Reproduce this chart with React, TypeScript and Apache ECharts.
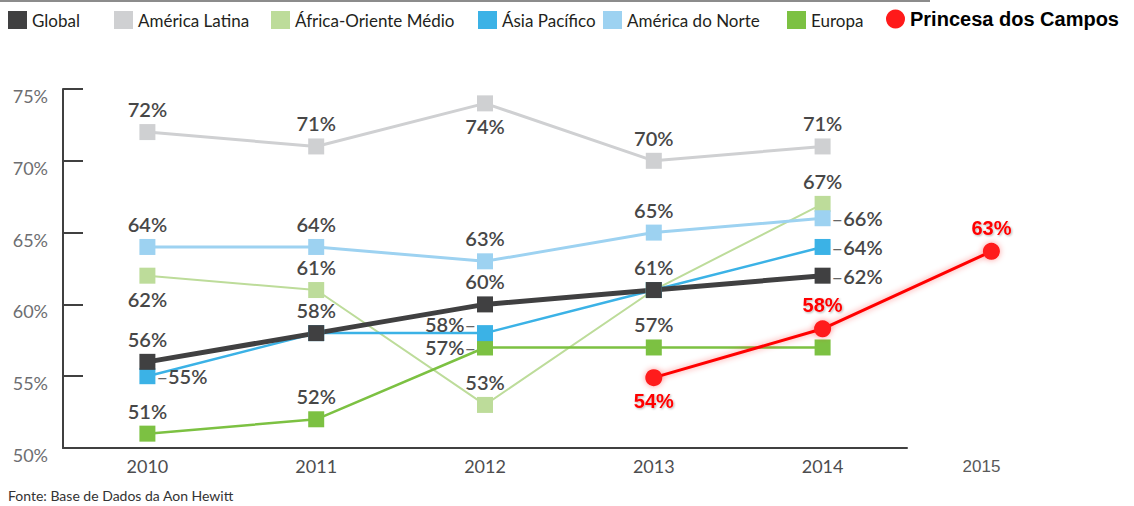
import React, { useEffect, useRef } from "react";
import * as echarts from "echarts";

const years = ["2010", "2011", "2012", "2013", "2014"];
const yearsExt = ["2010", "2011", "2012", "2013", "2014", "2015"];
const extraYear = ["2015"];

const globalVals = [56, 58, 60, 61, 62];
const latinaVals = [72, 71, 74, 70, 71];
const africaVals = [62, 61, 53, 61, 67];
const asiaVals = [55, 58, 58, 61, 64];
const norteVals = [64, 64, 63, 65, 66];
const europaVals = [51, 52, 57, 57, 57];
const princesaVals = [null, null, null, 54.9, 58.3, 63.7];
const princesaLabels = ["", "", "", "54%", "58%", "63%"];

const yTicks = { min: 50, max: 75, interval: 5 };

// label placement (style, not data)
const globalPos = ["top", "top", "top", "top", "right"];
const latinaPos = ["top", "top", "bottom", "top", "top"];
const africaPos = ["bottom", "top", "top", null, "top"];
const asiaPos = ["right", null, "left", null, "right"];
const nortePos = ["top", "top", "top", "top", "right"];
const europaPos = ["top", "top", "left", "top", null];
const asiaOffsets = [null, null, [0, -9], null, null];
const princesaPos = [null, null, null, "bottom", "top", "top"];

const FONT = "Lato, 'Open Sans', sans-serif";
const LABEL_COLOR = "#474747";

function buildData(vals: number[], pos: (string | null)[], offsets?: (number[] | null)[]) {
  return vals.map((v, i) => {
    const p = pos[i];
    if (!p) return { value: v, label: { show: false } };
    let fmt = `{v|${v}%}`;
    if (p === "right") fmt = `{d|–}{v|${v}%}`;
    if (p === "left") fmt = `{v|${v}%}{d|–}`;
    const label: any = { show: true, position: p, formatter: fmt };
    if (p === "right" || p === "left") label.distance = 1;
    if (offsets && offsets[i]) label.offset = offsets[i];
    return { value: v, label };
  });
}

const labelBase = {
  show: true,
  rich: {
    v: { fontFamily: FONT, fontSize: 20, fontWeight: 600, color: LABEL_COLOR },
    d: { fontFamily: FONT, fontSize: 20, fontWeight: 400, color: "#666" },
  },
};

function lineSeries(name: string, vals: number[], pos: (string | null)[], color: string, width: number, offsets?: (number[] | null)[]) {
  return {
    name,
    type: "line",
    xAxisIndex: 0,
    yAxisIndex: 0,
    data: buildData(vals, pos, offsets),
    symbol: "rect",
    symbolSize: 16,
    itemStyle: { color },
    lineStyle: { color, width },
    label: labelBase,
  };
}

export default function App() {
  const ref = useRef<HTMLDivElement>(null);
  useEffect(() => {
    document.body.style.margin = "0";
    const chart = echarts.init(ref.current!, undefined, { renderer: "svg" });
    const legendText = { fontFamily: FONT, fontSize: 17, color: "#231f20" };
    const mkLegend = (name: string, left: number) => ({
      data: [name],
      left,
      top: 11,
      padding: 0,
      icon: "rect",
      itemWidth: 19,
      itemHeight: 18,
      itemGap: 0,
      textStyle: legendText,
      selectedMode: false,
    });
    const option: any = {
      animation: false,
      backgroundColor: "#ffffff",
      legend: [
        mkLegend("Global", 8),
        mkLegend("América Latina", 114),
        mkLegend("África-Oriente Médio", 271),
        mkLegend("Ásia Pacífico", 478),
        mkLegend("América do Norte", 603),
        mkLegend("Europa", 787),
        {
          data: ["Princesa dos Campos"],
          left: 886,
          top: 9,
          padding: 0,
          icon: "circle",
          itemWidth: 19,
          itemHeight: 22,
          textStyle: { fontFamily: "'Liberation Sans', Arial, sans-serif", fontSize: 20, fontWeight: "bold", color: "#000" },
          selectedMode: false,
        },
      ],
      grid: [
        { left: 63, top: 89, width: 844, height: 359 },
        { left: 63, top: 89, width: 1012.8, height: 359 },
        { left: 907, top: 89, width: 149, height: 357 },
      ],
      xAxis: [
        {
          type: "category",
          gridIndex: 0,
          data: years,
          axisLine: { lineStyle: { color: "#404040", width: 2 } },
          axisTick: { inside: true, length: 8, lineStyle: { color: "#404040", width: 1.5 } },
          axisLabel: { color: "#4d4d4f", fontFamily: FONT, fontSize: 18, margin: 9 },
        },
        { type: "category", gridIndex: 1, data: yearsExt, show: false },
        {
          type: "category",
          gridIndex: 2,
          data: extraYear,
          axisLine: { lineStyle: { color: "#808080", width: 2.5, shadowBlur: 4, shadowColor: "rgba(0,0,0,0.25)" } },
          axisTick: { show: false },
          axisLabel: { color: "#595959", fontFamily: "'Liberation Sans', Arial, sans-serif", fontSize: 17, margin: 12 },
        },
      ],
      yAxis: [
        {
          type: "value",
          gridIndex: 0,
          min: yTicks.min,
          max: yTicks.max,
          interval: yTicks.interval,
          splitLine: { show: false },
          axisLine: { show: true, lineStyle: { color: "#404040", width: 2 } },
          axisTick: { show: true, inside: true, length: 20, lineStyle: { color: "#404040", width: 2 } },
          axisLabel: {
            formatter: "{value}%",
            color: "#6d6e71",
            fontFamily: FONT,
            fontSize: 18,
            margin: 15,
            verticalAlign: "top",
            lineHeight: 14,
          },
        },
        { type: "value", gridIndex: 1, min: yTicks.min, max: yTicks.max, show: false, splitLine: { show: false } },
        { type: "value", gridIndex: 2, min: yTicks.min, max: yTicks.max, show: false, splitLine: { show: false } },
      ],
      graphic: [
        { type: "line", shape: { x1: 0, y1: 1, x2: 930, y2: 1 }, style: { stroke: "#8c8c8c", lineWidth: 2 } },
        {
          type: "text",
          left: 8,
          top: 488,
          style: { text: "Fonte: Base de Dados da Aon Hewitt", fontFamily: FONT, fontSize: 14, fill: "#333" },
        },
      ],
      series: [
        lineSeries("América Latina", latinaVals, latinaPos, "#cfd0d2", 3),
        lineSeries("África-Oriente Médio", africaVals, africaPos, "#bddc9a", 2),
        lineSeries("América do Norte", norteVals, nortePos, "#9dd2f1", 3),
        lineSeries("Europa", europaVals, europaPos, "#7cc142", 2.5),
        lineSeries("Ásia Pacífico", asiaVals, asiaPos, "#3bb2e6", 2.5, asiaOffsets),
        lineSeries("Global", globalVals, globalPos, "#404041", 5),
        {
          name: "Princesa dos Campos",
          type: "line",
          xAxisIndex: 1,
          yAxisIndex: 1,
          data: princesaVals.map((v, i) =>
            v == null
              ? null
              : {
                  value: v,
                  label: {
                    show: true,
                    position: princesaPos[i],
                    formatter: princesaLabels[i],
                  },
                }
          ),
          symbol: "circle",
          symbolSize: 17,
          itemStyle: { color: "#ff1a1a", shadowBlur: 6, shadowColor: "rgba(255,0,0,0.4)" },
          lineStyle: { color: "#ff0000", width: 3, shadowBlur: 6, shadowColor: "rgba(255,0,0,0.45)" },
          label: {
            show: true,
            fontFamily: "'Liberation Sans', Arial, sans-serif",
            fontSize: 20,
            fontWeight: "bold",
            color: "#ff0000",
            textShadowColor: "rgba(0,0,0,0.3)",
            textShadowBlur: 2,
            textShadowOffsetX: 1,
            textShadowOffsetY: 1,
          },
        },
      ],
    };
    chart.setOption(option);
    return () => chart.dispose();
  }, []);
  return <div ref={ref} style={{ width: 1134, height: 506 }} />;
}
